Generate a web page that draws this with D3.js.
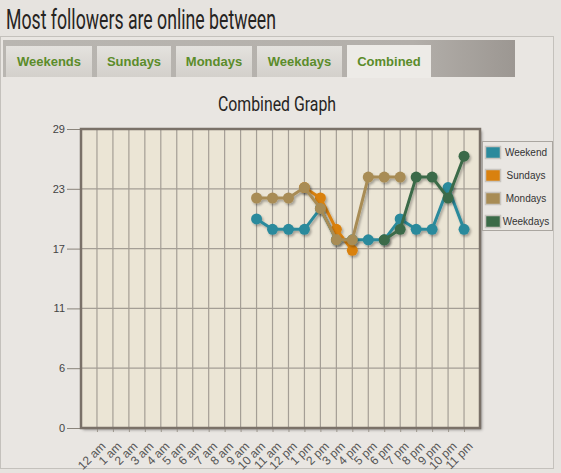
<!DOCTYPE html>
<html>
<head>
<meta charset="utf-8">
<script src="https://cdn.jsdelivr.net/npm/d3@7"></script>
<style>
  body { margin: 0; background: #e6e3df; }
  svg { display: block; }
</style>
</head>
<body>
<div id="container"></div>
<script>
// chart data
var hours = ["12 am","1 am","2 am","3 am","4 am","5 am","6 am","7 am","8 am","9 am","10 am","11 am",
             "12 pm","1 pm","2 pm","3 pm","4 pm","5 pm","6 pm","7 pm","8 pm","9 pm","10 pm","11 pm"];
var tabs = ["Weekends", "Sundays", "Mondays", "Weekdays", "Combined"];
var seriesNames = ["Weekend", "Sundays", "Mondays", "Weekdays"];
var seriesColors = ["#2b8a9c", "#d9810f", "#a88c55", "#3b6b48"];
// values per series, keyed by hour label
var weekendHours = ["10 am","11 am","12 pm","1 pm","2 pm","3 pm","4 pm","5 pm","6 pm","7 pm","8 pm","9 pm","10 pm","11 pm"];
var weekendValues = [20, 19, 19, 19, 21, 18, 18, 18, 18, 20, 19, 19, 23, 19];
var sundaysHours = ["1 pm","2 pm","3 pm","4 pm"];
var sundaysValues = [23, 22, 19, 17];
var mondaysHours = ["10 am","11 am","12 pm","1 pm","2 pm","3 pm","4 pm","5 pm","6 pm","7 pm"];
var mondaysValues = [22, 22, 22, 23, 21, 18, 18, 24, 24, 24];
var weekdaysHours = ["6 pm","7 pm","8 pm","9 pm","10 pm","11 pm"];
var weekdaysValues = [18, 19, 24, 24, 22, 26];
var yMax = 28.6;
var yTickValues = [0, 5.72, 11.44, 17.16, 22.88, 28.6];
var yTickLabels = ["0", "6", "11", "17", "23", "29"];

var w = 561, h = 473;

var svg = d3.select("div#container")
  .append("svg")
  .attr("width", w)
  .attr("height", h);

var defs = svg.append("defs");
var shadow = defs.append("filter").attr("id", "shadow")
  .attr("x", "-10%").attr("y", "-10%").attr("width", "130%").attr("height", "130%");
shadow.append("feDropShadow").attr("dx", 2).attr("dy", 2).attr("stdDeviation", 1.5)
  .attr("flood-color", "#000").attr("flood-opacity", 0.35);
var lineShadow = defs.append("filter").attr("id", "lshadow")
  .attr("x", "-10%").attr("y", "-10%").attr("width", "130%").attr("height", "130%");
lineShadow.append("feDropShadow").attr("dx", 1.5).attr("dy", 2).attr("stdDeviation", 1)
  .attr("flood-color", "#000").attr("flood-opacity", 0.3);

var tabGrad = defs.append("linearGradient").attr("id", "tabbar");
tabGrad.append("stop").attr("offset", "0%").attr("stop-color", "#b9b6b1");
tabGrad.append("stop").attr("offset", "80%").attr("stop-color", "#b3afaa");
tabGrad.append("stop").attr("offset", "100%").attr("stop-color", "#9c9792");

var tabFill = defs.append("linearGradient").attr("id", "tabfill")
  .attr("x1", 0).attr("y1", 0).attr("x2", 0).attr("y2", 1);
tabFill.append("stop").attr("offset", "0%").attr("stop-color", "#e4e2de");
tabFill.append("stop").attr("offset", "100%").attr("stop-color", "#d3d0cb");

// page title
svg.append("text")
  .attr("x", 6).attr("y", 29)
  .attr("font-family", "Roboto, sans-serif")
  .attr("font-size", 27)
  .attr("fill", "#262422")
  .attr("textLength", 270)
  .attr("lengthAdjust", "spacingAndGlyphs")
  .text("Most followers are online between");

// panel frame
svg.append("rect")
  .attr("x", 0.5).attr("y", 36.5).attr("width", 553).attr("height", 432)
  .attr("fill", "#e9e6e2").attr("stroke", "#c4c1bc");

// tab bar
svg.append("rect")
  .attr("x", 3).attr("y", 40).attr("width", 512).attr("height", 37)
  .attr("fill", "url(#tabbar)");

var tabX = d3.scaleBand().domain(tabs).range([6, 436]).paddingInner(0.058);
var tabWidths = [86, 74, 76, 85, 84];
var tabStarts = [6, 97, 176, 257, 347];

var tab = svg.append("g").selectAll("g").data(tabs).enter().append("g");
tab.append("rect")
  .attr("x", function(d, i) { return tabStarts[i]; })
  .attr("y", function(d, i) { return i === 4 ? 45 : 46; })
  .attr("width", function(d, i) { return tabWidths[i]; })
  .attr("height", function(d, i) { return i === 4 ? 33 : 31; })
  .attr("fill", function(d, i) { return i === 4 ? "#edebe7" : "url(#tabfill)"; });
tab.append("text")
  .attr("x", function(d, i) { return tabStarts[i] + tabWidths[i] / 2; })
  .attr("y", 66)
  .attr("text-anchor", "middle")
  .attr("font-family", "Liberation Sans, Arial, sans-serif")
  .attr("font-weight", "bold")
  .attr("font-size", 13)
  .attr("fill", "#5b8c2a")
  .text(function(d) { return d; });

// chart title
svg.append("text")
  .attr("x", 277).attr("y", 111)
  .attr("text-anchor", "middle")
  .attr("font-family", "Roboto, sans-serif")
  .attr("font-size", 20)
  .attr("fill", "#262422")
  .attr("textLength", 118)
  .attr("lengthAdjust", "spacingAndGlyphs")
  .text("Combined Graph");

// scales
var plot = { left: 81, right: 480, top: 129, bottom: 428 };
var x = d3.scalePoint().domain(hours).range([plot.left, plot.right]).padding(1);
var y = d3.scaleLinear().domain([0, yMax]).range([plot.bottom, plot.top]);

// plot background
svg.append("rect")
  .attr("x", plot.left).attr("y", plot.top)
  .attr("width", plot.right - plot.left).attr("height", plot.bottom - plot.top)
  .attr("fill", "#ebe5d5")
  .attr("filter", "url(#shadow)");

// vertical grid + x axis
var xAxis = svg.append("g")
  .attr("transform", "translate(0," + plot.bottom + ")")
  .call(d3.axisBottom(x).tickSize(4).tickSizeOuter(0));
xAxis.select(".domain").remove();
xAxis.selectAll(".tick line").attr("stroke", "#9c968d");
xAxis.selectAll(".tick text")
  .attr("font-family", "Liberation Sans, Arial, sans-serif")
  .attr("font-size", 12)
  .attr("fill", "#555")
  .attr("text-anchor", "end")
  .attr("dx", 0).attr("dy", 0)
  .attr("transform", "translate(4,14) rotate(-45)");

svg.append("g").selectAll("line").data(hours).enter().append("line")
  .attr("x1", function(d) { return x(d); })
  .attr("x2", function(d) { return x(d); })
  .attr("y1", plot.top).attr("y2", plot.bottom)
  .attr("stroke", "#a49e95").attr("stroke-width", 1.2);

// y axis + horizontal grid
var yAxis = svg.append("g")
  .attr("transform", "translate(" + plot.left + ",0)")
  .call(d3.axisLeft(y).tickValues(yTickValues).tickSize(14).tickSizeOuter(0)
    .tickFormat(function(d, i) { return yTickLabels[i]; }));
yAxis.select(".domain").remove();
yAxis.selectAll(".tick line").attr("stroke", "#8a847b");
yAxis.selectAll(".tick text")
  .attr("font-family", "Liberation Sans, Arial, sans-serif")
  .attr("font-size", 11)
  .attr("fill", "#444")
  .attr("x", -16);

svg.append("g").selectAll("line").data(yTickValues).enter().append("line")
  .attr("x1", plot.left).attr("x2", plot.right)
  .attr("y1", function(d) { return y(d); })
  .attr("y2", function(d) { return y(d); })
  .attr("stroke", "#a49e95").attr("stroke-width", 1.2);

// plot frame
svg.append("rect")
  .attr("x", plot.left).attr("y", plot.top)
  .attr("width", plot.right - plot.left).attr("height", plot.bottom - plot.top)
  .attr("fill", "none")
  .attr("stroke", "#7a7168").attr("stroke-width", 2.5);

// series
var series = [
  { name: seriesNames[0], color: seriesColors[0], hours: weekendHours, values: weekendValues },
  { name: seriesNames[1], color: seriesColors[1], hours: sundaysHours, values: sundaysValues },
  { name: seriesNames[2], color: seriesColors[2], hours: mondaysHours, values: mondaysValues },
  { name: seriesNames[3], color: seriesColors[3], hours: weekdaysHours, values: weekdaysValues }
];
series.forEach(function(s) {
  s.points = s.hours.map(function(hr, i) { return { hour: hr, value: s.values[i] }; });
});

var line = d3.line()
  .x(function(d) { return x(d.hour); })
  .y(function(d) { return y(d.value); });

var seriesG = svg.append("g").selectAll("g").data(series).enter().append("g")
  .attr("filter", "url(#lshadow)");
seriesG.append("path")
  .attr("d", function(s) { return line(s.points); })
  .attr("fill", "none")
  .attr("stroke", function(s) { return s.color; })
  .attr("stroke-width", 3)
  .attr("stroke-linejoin", "round");
seriesG.selectAll("circle").data(function(s) { return s.points.map(function(p) { return { p: p, c: s.color }; }); })
  .enter().append("circle")
  .attr("cx", function(d) { return x(d.p.hour); })
  .attr("cy", function(d) { return y(d.p.value); })
  .attr("r", 5.5)
  .attr("fill", function(d) { return d.c; });

// legend
var legend = svg.append("g");
legend.append("rect")
  .attr("x", 482.5).attr("y", 141.5).attr("width", 70).attr("height", 89)
  .attr("fill", "#e9e6e2").attr("stroke", "#aaa6a0");
var legendY = d3.scalePoint().domain(seriesNames).range([152, 221]);
var item = legend.selectAll("g").data(series).enter().append("g")
  .attr("transform", function(s) { return "translate(0," + legendY(s.name) + ")"; });
item.append("rect")
  .attr("x", 485.5).attr("y", -5.5).attr("width", 15).attr("height", 12)
  .attr("fill", function(s) { return s.color; })
  .attr("stroke", "#c8c4be").attr("stroke-width", 1.5);
item.append("text")
  .attr("x", 526).attr("y", 4)
  .attr("text-anchor", "middle")
  .attr("font-family", "Liberation Sans, Arial, sans-serif")
  .attr("font-size", 10)
  .attr("fill", "#333")
  .text(function(s) { return s.name; });
</script>
</body>
</html>
